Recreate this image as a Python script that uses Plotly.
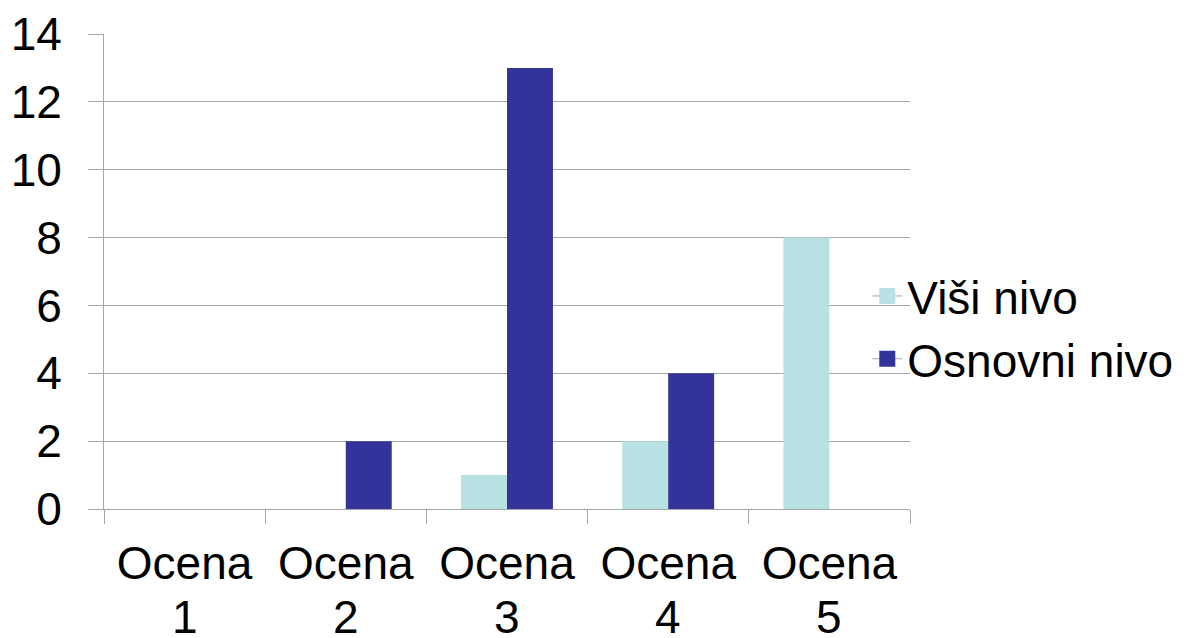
import plotly.graph_objects as go

categories = ["Ocena 1", "Ocena 2", "Ocena 3", "Ocena 4", "Ocena 5"]
visi_nivo = [0, 0, 1, 2, 8]
osnovni_nivo = [0, 2, 13, 4, 0]
series_names = ["Viši nivo", "Osnovni nivo"]
y_ticks = [0, 2, 4, 6, 8, 10, 12, 14]

c_light = "#B9E0E3"
c_dark = "#333399"
grid = "#A6A6A6"
font_family = "Liberation Sans, Arial, sans-serif"

fig = go.Figure()
fig.add_trace(go.Bar(x=categories, y=visi_nivo, name=series_names[0],
                     marker=dict(color=c_light, line=dict(width=0)), showlegend=False))
fig.add_trace(go.Bar(x=categories, y=osnovni_nivo, name=series_names[1],
                     marker=dict(color=c_dark, line=dict(width=0)), showlegend=False))
# legend keys
for nm, col in zip(series_names, [c_light, c_dark]):
    fig.add_trace(go.Scatter(x=[None], y=[None], name=nm, mode="lines+markers",
                             line=dict(color=grid, width=1),
                             marker=dict(symbol="square", size=21, color=col),
                             showlegend=True, hoverinfo="skip"))

line1 = [c.split(" ")[0] for c in categories]
line2 = [c.split(" ")[1] for c in categories]

for c, t in zip(categories, line2):
    fig.add_annotation(x=c, xref="x", y=0, yref="paper", yanchor="middle",
                       yshift=-108, text=t, showarrow=False, height=40,
                       font=dict(size=46, color="black", family=font_family))

fig.update_layout(
    width=1191, height=638,
    margin=dict(l=96, r=289, t=26, b=137, autoexpand=False),
    paper_bgcolor="white", plot_bgcolor="white",
    barmode="group", bargap=0.43, bargroupgap=0,
    font=dict(family=font_family, size=46, color="black"),
    legend=dict(x=0.947, xanchor="left", y=0.382, yanchor="middle",
                font=dict(size=46), bgcolor="rgba(0,0,0,0)", tracegroupgap=0),
    xaxis=dict(type="category", showgrid=False, showline=True, linecolor=grid, linewidth=1,
               ticks="outside", ticklen=14, tickcolor=grid, tickson="boundaries",
               tickvals=categories, ticktext=line1, ticklabelstandoff=14,
               tickfont=dict(size=46), range=[-0.5, 4.5], zeroline=False, automargin=False),
    yaxis=dict(range=[0, 14], tickvals=y_ticks, showgrid=True, gridcolor=grid, gridwidth=1,
               showline=True, linecolor=grid, linewidth=1, ticks="outside", ticklen=15,
               tickcolor=grid, ticklabelstandoff=17, tickfont=dict(size=46), zeroline=False,
               automargin=False),
)

fig.write_html("out.html")
